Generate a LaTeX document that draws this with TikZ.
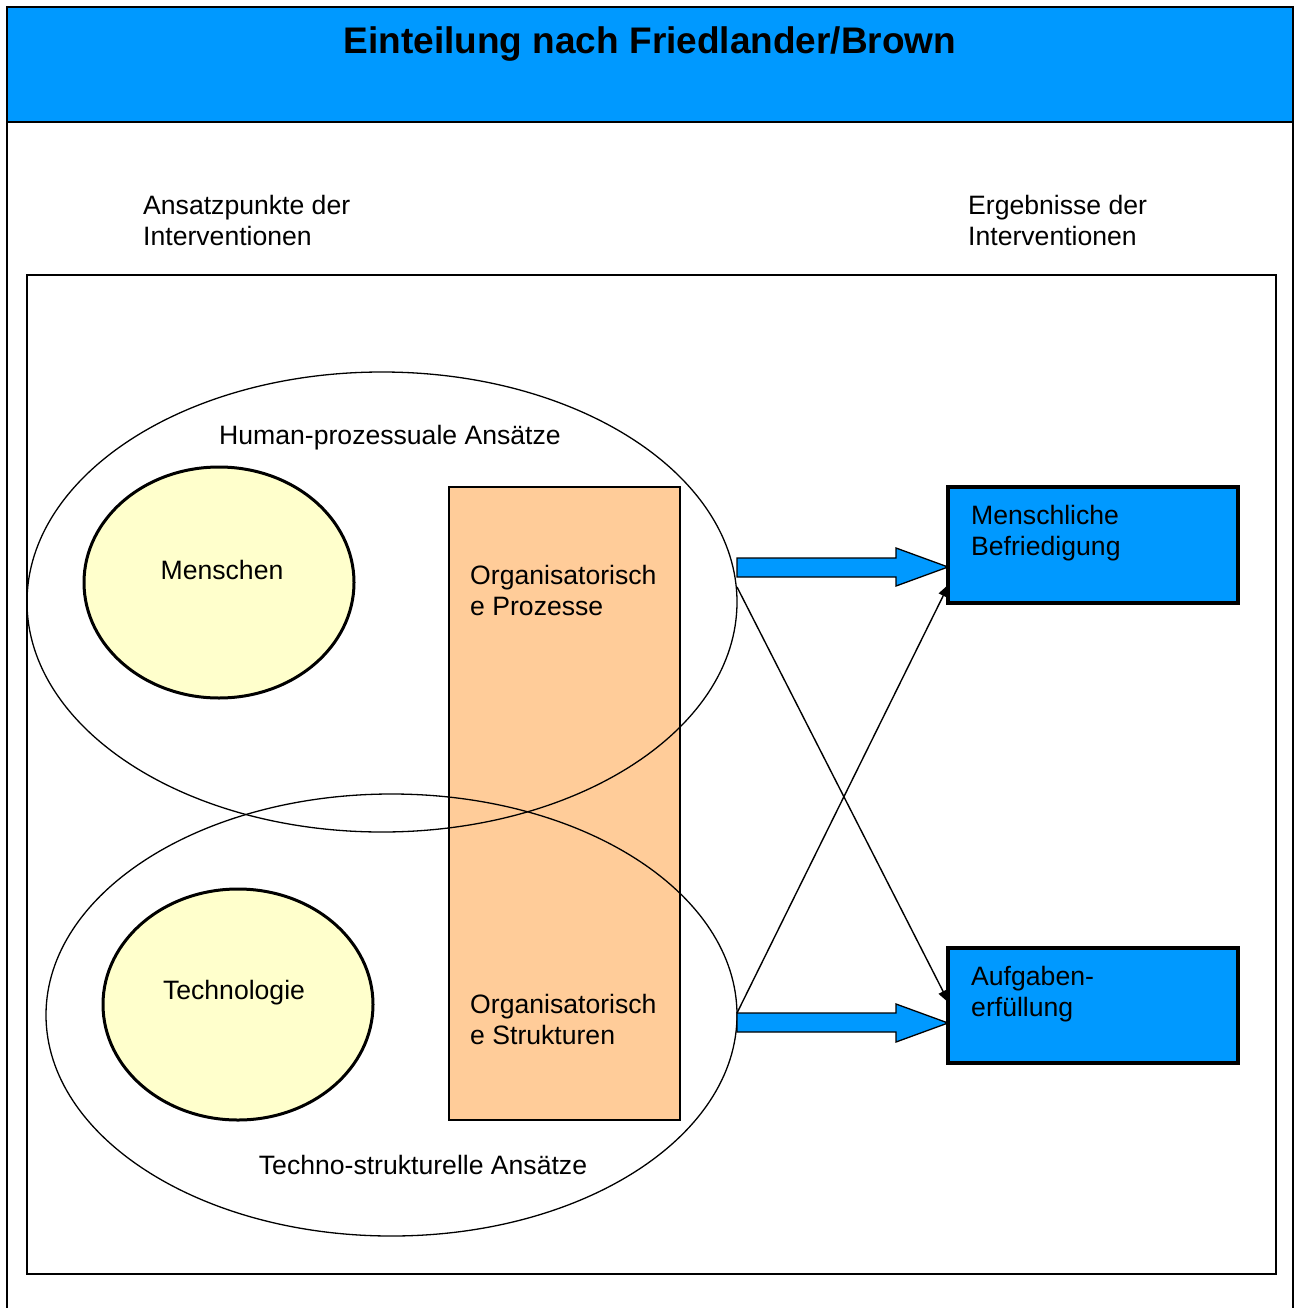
\documentclass[tikz,border=0pt]{standalone}
\usepackage{fontspec}
\setmainfont{Liberation Sans}
\usetikzlibrary{arrows.meta}
\definecolor{barblue}{HTML}{0099FF}
\definecolor{orangebox}{HTML}{FFCC99}
\definecolor{paleyellow}{HTML}{FFFFCC}
\begin{document}
\begin{tikzpicture}[x=1pt,y=-1pt,
  lbl/.style={inner sep=0pt,align=left,font=\fontsize{26.6}{31}\selectfont},
  ctr/.style={inner sep=0pt,align=center,font=\fontsize{26.6}{31}\selectfont},
  bigell/.style={draw,line width=1.3pt},
  circ/.style={draw,line width=3pt,fill=paleyellow},
  resbox/.style={draw,line width=4pt,fill=barblue},
  blockarrow/.style={draw,line width=1.3pt,fill=barblue},
  thin/.style={line width=1.4pt,-{Triangle[length=13pt,width=10pt]}}]
\useasboundingbox (0,0) rectangle (1296,1308);
% outer frame
\fill[barblue] (7,7) rectangle (1293,122);
\draw[line width=2pt] (7,1310) -- (7,7) -- (1293,7) -- (1293,1310);
\draw[line width=2.5pt] (7,122) -- (1293,122);
\node[inner sep=0pt,font=\fontsize{37}{40}\selectfont\bfseries] (title) at (650,44) {Einteilung nach Friedlander/Brown};
% column headings
\node[lbl,anchor=base west] (hl) at (143,245) {Ansatzpunkte der\\Interventionen};
\node[lbl,anchor=base west] (hr) at (968,245) {Ergebnisse der\\Interventionen};
% inner frame
\draw[line width=2pt] (27,275) rectangle (1276,1274);
% orange rectangle
\node[draw,line width=1.3pt,fill=orangebox,minimum width=231pt,minimum height=633pt,inner sep=0pt] (org) at (564.5,803.5) {};
% ellipses
\draw[bigell] (382,602) ellipse [x radius=355,y radius=230];
\draw[bigell] (391.5,1015) ellipse [x radius=345.5,y radius=221];
\node[ctr] (hum) at (390,438) {Human-prozessuale Ansätze};
\node[ctr] (tech) at (423,1165) {Techno-strukturelle Ansätze};
% circles
\draw[circ] (219,582.5) ellipse [x radius=135,y radius=115.5];
\draw[circ] (238,1004.5) ellipse [x radius=135,y radius=115.5];
\node[ctr] (men) at (222,570) {Menschen};
\node[ctr] (techn) at (234,993) {Technologie};
% org texts
\node[lbl,anchor=base west] (op) at (470,615) {Organisatorisch\\e Prozesse};
\node[lbl,anchor=base west] (os) at (470,1044) {Organisatorisch\\e Strukturen};
% result boxes
\node[resbox,minimum width=290pt,minimum height=116pt,inner sep=0pt] (mb) at (1093,545) {};
\node[resbox,minimum width=290pt,minimum height=115pt,inner sep=0pt] (ae) at (1093,1005.5) {};
\node[lbl,anchor=base west] (mbt) at (971,555) {Menschliche\\Befriedigung};
\node[lbl,anchor=base west] (aet) at (971,1016) {Aufgaben-\\erfüllung};
% block arrows
\draw[blockarrow] (737,558) -- (896,558) -- (896,548) -- (948,567) -- (896,586) -- (896,577) -- (737,577) -- cycle;
\draw[blockarrow] (737,1013) -- (896,1013) -- (896,1004) -- (948,1023) -- (896,1042) -- (896,1032) -- (737,1032) -- cycle;
% thin arrows
\coordinate (a1) at (737,587);
\coordinate (b1) at (949,1003);
\coordinate (a2) at (737,1013);
\coordinate (b2) at (949,584);
\draw[thin] (a1) -- (b1);
\draw[thin] (a2) -- (b2);
\end{tikzpicture}
\end{document}
